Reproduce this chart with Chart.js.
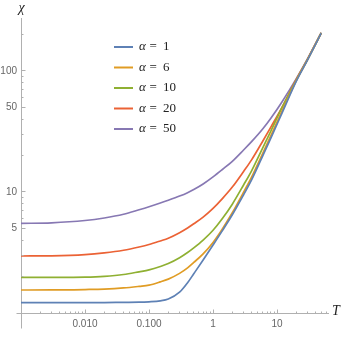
<!DOCTYPE html>
<html>
<head>
<meta charset="utf-8">
<script src="https://cdn.jsdelivr.net/npm/chart.js@4/dist/chart.umd.min.js"></script>
<style>
  html, body { margin: 0; padding: 0; background: #fff; }
  #wrap { width: 349px; height: 351px; }
</style>
</head>
<body>
<div id="wrap"><canvas id="chart" width="349" height="351"></canvas></div>
<script>
// temperature grid (x) and susceptibility curves (y)
const temps  = [0.001, 0.003, 0.01, 0.02, 0.04, 0.07, 0.1, 0.15, 0.2, 0.3, 0.4, 0.5, 0.7, 1, 1.4, 2, 3, 4, 6, 8, 12, 20, 30, 49];
const chiA1  = [1.22, 1.22, 1.22, 1.22, 1.225, 1.228, 1.238, 1.261, 1.304, 1.485, 1.777, 2.11, 2.742, 3.648, 4.797, 6.48, 9.48, 12.57, 20.0, 27.9, 45.06, 82.4, 123.5, 205.3];
const chiA6  = [1.549, 1.55, 1.563, 1.576, 1.61, 1.659, 1.697, 1.807, 1.906, 2.125, 2.36, 2.615, 3.085, 3.83, 4.955, 6.73, 9.96, 13.28, 21.0, 29.2, 46.8, 83.3, 124.2, 205.7];
const chiA10 = [1.969, 1.97, 1.98, 2.01, 2.08, 2.19, 2.27, 2.42, 2.56, 2.86, 3.16, 3.45, 4.0, 4.83, 6.04, 7.93, 11.43, 14.97, 23.3, 31.9, 50.0, 84.1, 124.7, 206.1];
const chiA20 = [2.958, 2.97, 3.04, 3.14, 3.30, 3.51, 3.68, 3.94, 4.15, 4.61, 5.04, 5.46, 6.20, 7.32, 8.82, 10.98, 14.77, 18.42, 26.4, 34.4, 50.3, 85.1, 125.4, 206.5];
const chiA50 = [5.50, 5.56, 5.81, 6.10, 6.55, 7.13, 7.55, 8.10, 8.54, 9.25, 9.87, 10.47, 11.64, 13.33, 15.35, 17.94, 22.24, 26.05, 33.3, 40.7, 55.7, 86.4, 126.4, 207.3];

const alphas = [1, 6, 10, 20, 50];
const series = [chiA1, chiA6, chiA10, chiA20, chiA50];
const colors = ['#5E81B5', '#E09C24', '#8FB032', '#EB6235', '#8778B3'];

const xMajor = [0.01, 0.1, 1, 10];
const xMajorLabels = ['0.010', '0.100', '1', '10'];
const yMajor = [5, 10, 50, 100];

const axisGray = '#b0b0b0';
const labelGray = '#666';

const same = (a, b) => Math.abs(Math.log10(a) - Math.log10(b)) < 1e-6;
const isDecadeStep = v => {
    const m = v / Math.pow(10, Math.floor(Math.log10(v) + 1e-9));
    return Math.abs(m - Math.round(m)) < 1e-6;
};
const alignPx = p => Math.round(p - 0.5) + 0.5;

const decor = {
    id: 'decor',
    afterDraw(chart) {
        const ctx = chart.ctx;
        const a = chart.chartArea;
        const xs = chart.scales.x, ys = chart.scales.y;
        const ax = alignPx(a.left), ay = alignPx(a.bottom);
        ctx.save();
        ctx.strokeStyle = axisGray;
        ctx.lineWidth = 1;
        ctx.beginPath();
        // axis overhang like Mathematica
        ctx.moveTo(ax, ay); ctx.lineTo(ax, ay + 15);
        ctx.moveTo(ax - 5, ay); ctx.lineTo(ax, ay);
        // ticks pointing into the plot
        xs.ticks.forEach(t => {
            if (!isDecadeStep(t.value)) return;
            const px = alignPx(xs.getPixelForValue(t.value));
            const major = xMajor.some(m => same(m, t.value));
            ctx.moveTo(px, ay); ctx.lineTo(px, ay - (major ? 4 : 2));
        });
        ys.ticks.forEach(t => {
            if (!isDecadeStep(t.value)) return;
            const py = alignPx(ys.getPixelForValue(t.value));
            const major = yMajor.some(m => same(m, t.value));
            ctx.moveTo(ax, py); ctx.lineTo(ax + (major ? 4 : 2), py);
        });
        ctx.stroke();

        // axis titles
        ctx.fillStyle = '#222';
        ctx.font = 'italic 14px "Liberation Serif"';
        ctx.textAlign = 'center';
        ctx.textBaseline = 'middle';
        ctx.fillText('\u03C7', ax, 8);
        ctx.textAlign = 'left';
        ctx.fillText('T', a.right + 4, ay - 2);

        // legend inside the plot
        chart.data.datasets.forEach((ds, i) => {
            const y = 47 + i * 20.5;
            ctx.strokeStyle = ds.borderColor;
            ctx.lineWidth = 2;
            ctx.beginPath();
            ctx.moveTo(114, y); ctx.lineTo(133, y);
            ctx.stroke();
            ctx.fillStyle = '#222';
            ctx.textBaseline = 'middle';
            ctx.textAlign = 'left';
            ctx.font = 'italic 13px "Liberation Serif"';
            ctx.fillText('\u03B1', 139, y);
            ctx.font = '13px "Liberation Serif"';
            ctx.fillText('=', 149.5, y);
            ctx.fillText(String(alphas[i]), 163, y);
        });
        ctx.restore();
    }
};

new Chart(document.getElementById('chart'), {
    type: 'line',
    data: {
        datasets: series.map((vals, i) => ({
            label: '\u03B1 = ' + alphas[i],
            data: temps.map((t, k) => ({ x: t, y: vals[k] })),
            borderColor: colors[i],
            borderWidth: 1.7,
            pointRadius: 0,
            fill: false,
            cubicInterpolationMode: 'monotone'
        }))
    },
    options: {
        responsive: false,
        animation: false,
        devicePixelRatio: 1,
        layout: { padding: { top: 18, right: 21, left: 0, bottom: 0 } },
        plugins: { legend: { display: false }, tooltip: { enabled: false } },
        scales: {
            x: {
                type: 'logarithmic',
                min: 0.001,
                max: 62.5,
                afterFit: s => { s.height = 38; },
                grid: { drawOnChartArea: false, drawTicks: false },
                border: { display: true, color: axisGray, width: 1 },
                ticks: {
                    autoSkip: false,
                    maxRotation: 0,
                    padding: 5,
                    color: labelGray,
                    font: { family: '"Liberation Sans"', size: 10 },
                    callback: v => {
                        const k = xMajor.findIndex(m => same(m, v));
                        return k >= 0 ? xMajorLabels[k] : '';
                    }
                }
            },
            y: {
                type: 'logarithmic',
                min: 1,
                max: 274,
                afterFit: s => { s.width = 21; },
                grid: { drawOnChartArea: false, drawTicks: false },
                border: { display: true, color: axisGray, width: 1 },
                ticks: {
                    autoSkip: false,
                    padding: 4,
                    color: labelGray,
                    font: { family: '"Liberation Sans"', size: 10 },
                    callback: v => yMajor.some(m => same(m, v)) ? String(v) : ''
                }
            }
        }
    },
    plugins: [decor]
});
</script>
</body>
</html>
